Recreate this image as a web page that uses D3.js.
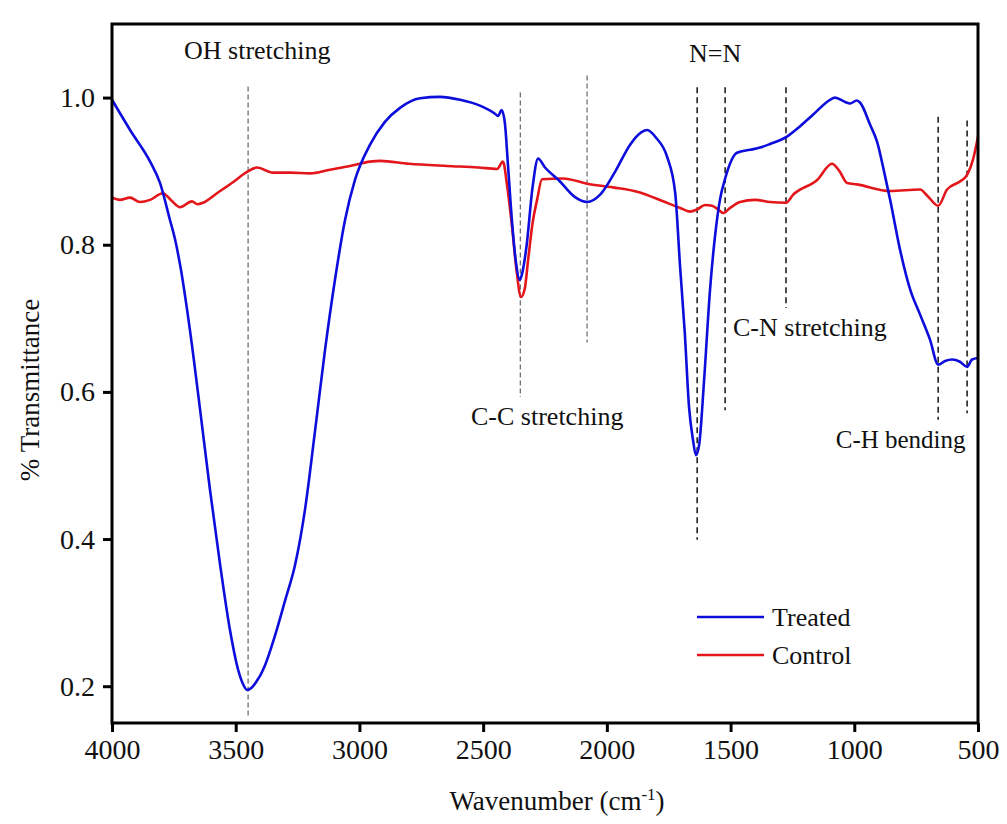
<!DOCTYPE html>
<html>
<head>
<meta charset="utf-8">
<script src="https://cdn.jsdelivr.net/npm/d3@7"></script>
<style>
  body { margin: 0; background: #fff; }
  svg text { font-family: "Liberation Serif", "Times New Roman", serif; fill: #111; }
</style>
</head>
<body>
<div id="chart"></div>
<script>
// FTIR spectra, [wavenumber cm-1, transmittance]
var treated = [[4000,0.997],[3927,0.956],[3846,0.913],[3806,0.884],[3766,0.834],[3745,0.807],[3725,0.773],[3685,0.684],[3644,0.576],[3604,0.467],[3563,0.365],[3523,0.276],[3490,0.222],[3472,0.204],[3454,0.195],[3436,0.198],[3415,0.207],[3400,0.215],[3382,0.228],[3341,0.269],[3300,0.317],[3260,0.365],[3220,0.44],[3179,0.548],[3139,0.657],[3099,0.752],[3058,0.834],[3018,0.888],[2957,0.936],[2897,0.967],[2836,0.986],[2755,0.999],[2674,1.001],[2593,0.997],[2513,0.989],[2452,0.978],[2440,0.975],[2425,0.983],[2412,0.965],[2400,0.91],[2383,0.83],[2367,0.775],[2352,0.752],[2343,0.76],[2325,0.797],[2300,0.879],[2278,0.917],[2250,0.905],[2195,0.888],[2130,0.865],[2080,0.858],[2027,0.868],[1967,0.899],[1906,0.936],[1860,0.953],[1837,0.956],[1800,0.945],[1757,0.92],[1724,0.871],[1704,0.77],[1685,0.68],[1668,0.58],[1652,0.535],[1640,0.514],[1627,0.528],[1607,0.616],[1583,0.739],[1560,0.82],[1543,0.861],[1522,0.89],[1474,0.925],[1421,0.929],[1381,0.932],[1340,0.937],[1272,0.947],[1219,0.961],[1166,0.977],[1098,0.997],[1078,1.0],[1037,0.994],[1017,0.992],[990,0.996],[976,0.993],[936,0.963],[908,0.94],[880,0.9],[855,0.861],[815,0.793],[774,0.739],[734,0.705],[694,0.671],[661,0.637],[633,0.642],[605,0.644],[573,0.641],[544,0.634],[524,0.644],[500,0.646]];
var control = [[4000,0.864],[3968,0.861],[3927,0.864],[3887,0.858],[3846,0.861],[3794,0.870],[3760,0.86],[3725,0.851],[3677,0.859],[3655,0.855],[3632,0.857],[3576,0.870],[3511,0.885],[3454,0.899],[3414,0.905],[3349,0.898],[3280,0.898],[3200,0.897],[3119,0.902],[3038,0.907],[2957,0.913],[2917,0.914],[2800,0.91],[2646,0.907],[2520,0.905],[2444,0.903],[2420,0.913],[2403,0.88],[2383,0.824],[2365,0.765],[2347,0.729],[2332,0.74],[2318,0.78],[2300,0.83],[2282,0.861],[2262,0.889],[2177,0.89],[2080,0.883],[1975,0.878],[1866,0.871],[1773,0.859],[1704,0.85],[1664,0.845],[1635,0.848],[1603,0.854],[1575,0.853],[1550,0.848],[1530,0.843],[1502,0.85],[1462,0.858],[1401,0.861],[1340,0.858],[1276,0.857],[1247,0.868],[1150,0.888],[1090,0.910],[1060,0.9],[1029,0.884],[989,0.882],[855,0.873],[734,0.875],[706,0.867],[661,0.853],[625,0.875],[573,0.886],[544,0.895],[520,0.916],[500,0.947]];

var seriesNames = ["Treated", "Control"];
var seriesColors = ["#0d0ddc", "#e3161b"];

var xTicks = [4000, 3500, 3000, 2500, 2000, 1500, 1000, 500];
var yTicks = [0.2, 0.4, 0.6, 0.8, 1.0];

// peak markers: wavenumber, top and bottom of dashed line (transmittance)
var markers = [
  {w: 3450, top: 1.015, bottom: 0.156, thin: true},
  {w: 2350, top: 1.007, bottom: 0.593, thin: true},
  {w: 2080, top: 1.030, bottom: 0.667, thin: true},
  {w: 1635, top: 1.014, bottom: 0.399},
  {w: 1522, top: 1.014, bottom: 0.575},
  {w: 1276, top: 1.014, bottom: 0.714},
  {w: 661,  top: 0.974, bottom: 0.562},
  {w: 544,  top: 0.969, bottom: 0.571}
];

var labels = [
  {text: "OH stretching",  w: 3709, t: 1.052, size: 26},
  {text: "N=N",            w: 1668, t: 1.049, size: 26},
  {text: "C-C stretching", w: 2549, t: 0.555, size: 26},
  {text: "C-N stretching", w: 1490, t: 0.676, size: 26},
  {text: "C-H bending",    w: 1075, t: 0.524, size: 25}
];

var width = 1007, height = 824;
var margin = {top: 24, right: 29, bottom: 101, left: 112};
var innerW = width - margin.left - margin.right,
    innerH = height - margin.top - margin.bottom;

var svg = d3.select("#chart").append("svg")
    .attr("width", width)
    .attr("height", height);
var g = svg.append("g").attr("transform", "translate(" + margin.left + "," + margin.top + ")");

var x = d3.scaleLinear().domain([4000, 500]).range([0, innerW]);
var y = d3.scaleLinear().domain([0.15, 1.1]).range([innerH, 0]);

// dashed markers
g.selectAll(".marker")
  .data(markers)
  .enter().append("line")
  .attr("class", "marker")
  .attr("x1", function(d){ return x(d.w); })
  .attr("x2", function(d){ return x(d.w); })
  .attr("y1", function(d){ return y(d.top); })
  .attr("y2", function(d){ return y(d.bottom); })
  .attr("stroke", function(d){ return d.thin ? "#444" : "#222"; })
  .attr("stroke-width", function(d){ return d.thin ? 1 : 1.6; })
  .attr("stroke-dasharray", function(d){ return d.thin ? "5,3" : "6,4"; });

var line = d3.line()
    .x(function(d){ return x(d[0]); })
    .y(function(d){ return y(d[1]); })
    .curve(d3.curveMonotoneX);

[control, treated].forEach(function(s, i){
  var c = i == 0 ? seriesColors[1] : seriesColors[0];
  g.append("path")
    .datum(s)
    .attr("fill", "none")
    .attr("stroke", c)
    .attr("stroke-width", 2.6)
    .attr("stroke-linejoin", "round")
    .attr("d", line);
});

// annotations
g.selectAll(".note")
  .data(labels)
  .enter().append("text")
  .attr("class", "note")
  .attr("x", function(d){ return x(d.w); })
  .attr("y", function(d){ return y(d.t); })
  .style("font-size", function(d){ return d.size + "px"; })
  .text(function(d){ return d.text; });

// axes
var xAxis = g.append("g")
    .attr("transform", "translate(0," + innerH + ")")
    .call(d3.axisBottom(x).tickValues(xTicks).tickFormat(d3.format("d")).tickSize(9).tickSizeOuter(0).tickPadding(7));
var yAxis = g.append("g")
    .call(d3.axisLeft(y).tickValues(yTicks).tickFormat(d3.format(".1f")).tickSize(9).tickSizeOuter(0).tickPadding(8));
[xAxis, yAxis].forEach(function(a){
  a.select(".domain").remove();
  a.selectAll(".tick line").attr("stroke", "#000").attr("stroke-width", 3);
  a.selectAll(".tick text")
    .style("font-family", "'Liberation Serif', 'Times New Roman', serif")
    .style("font-size", "28px")
    .attr("fill", "#111");
});

// frame
g.append("rect")
  .attr("width", innerW)
  .attr("height", innerH)
  .attr("fill", "none")
  .attr("stroke", "#000")
  .attr("stroke-width", 3);

// axis titles
var xt = svg.append("text")
  .attr("x", margin.left + innerW / 2 + 12)
  .attr("y", 810)
  .attr("text-anchor", "middle")
  .style("font-size", "27px");
xt.append("tspan").text("Wavenumber (cm");
xt.append("tspan").attr("dy", -10).style("font-size", "17px").text("-1");
xt.append("tspan").attr("dy", 10).text(")");

svg.append("text")
  .attr("transform", "translate(39,390) rotate(-90)")
  .attr("text-anchor", "middle")
  .style("font-size", "27px")
  .text("% Transmittance");

// legend
var legend = g.append("g").attr("transform", "translate(" + (697 - margin.left) + "," + (617 - margin.top) + ")");
seriesNames.forEach(function(n, i){
  var row = legend.append("g").attr("transform", "translate(0," + i * 38 + ")");
  row.append("line")
    .attr("x1", 0).attr("x2", 67)
    .attr("stroke", seriesColors[i])
    .attr("stroke-width", 2.6);
  row.append("text")
    .attr("x", 75)
    .attr("y", 9)
    .style("font-size", "26px")
    .text(n);
});
</script>
</body>
</html>
